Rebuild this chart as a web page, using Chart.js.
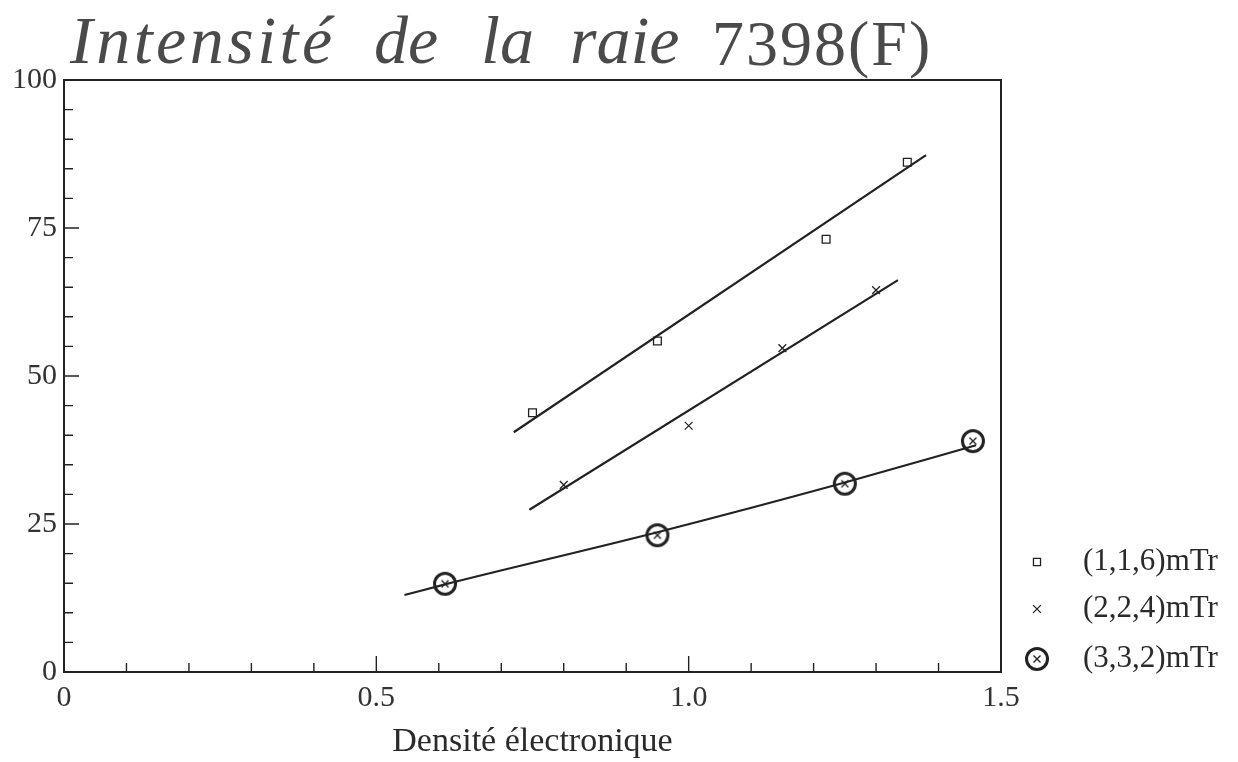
<!DOCTYPE html>
<html>
<head>
<meta charset="utf-8">
<script src="https://cdn.jsdelivr.net/npm/chart.js@4/dist/chart.umd.min.js"></script>
<style>
  html,body{margin:0;padding:0;background:#fff;}
  #wrap{position:relative;width:1238px;height:762px;overflow:hidden;}
  #c{position:absolute;left:0;top:0;}
  .t{position:absolute;font-family:"Liberation Serif",serif;color:#4a4a4a;white-space:nowrap;}
  .it{top:6px;font-size:68px;line-height:68px;font-style:italic;letter-spacing:0px;}
  .up{top:12px;font-size:64px;line-height:64px;letter-spacing:2px;}
</style>
</head>
<body>
<div id="wrap">
  <canvas id="c" width="1238" height="762"></canvas>
  <span class="t it" style="left:70px;letter-spacing:3.5px">Intensité</span>
  <span class="t it" style="left:374px">de</span>
  <span class="t it" style="left:481px">la</span>
  <span class="t it" style="left:570px">raie</span>
  <span class="t up" style="left:712px">7398(F)</span>
</div>
<script>
// ---- data ----
const seriesNames = ['(1,1,6)mTr', '(2,2,4)mTr', '(3,3,2)mTr'];

const sqX = [0.75, 0.95, 1.22, 1.35];
const sqY = [43.8, 55.9, 73.1, 86.1];
const sqFitX = [0.72, 1.38];
const sqFitY = [40.5, 87.3];

const crX = [0.80, 1.00, 1.15, 1.30];
const crY = [31.6, 41.6, 54.7, 64.5];
const crFitX = [0.745, 1.335];
const crFitY = [27.4, 66.2];

const ciX = [0.61, 0.95, 1.25, 1.455];
const ciY = [14.9, 23.1, 31.8, 39.0];
const ciFitX = [0.545, 0.61, 0.95, 1.25, 1.46];
const ciFitY = [13.0, 14.8, 23.6, 32.0, 38.3];

const xTickLabels = ['0', '0.5', '1.0', '1.5'];
const yTickLabels = ['0', '25', '50', '75', '100'];
const xAxisTitle = 'Densité électronique';

const pts = (xs, ys) => xs.map((x, i) => ({x: x, y: ys[i]}));

const INK = '#222';

function makeCircleX() {
  const c = document.createElement('canvas');
  c.width = 30; c.height = 30;
  const g = c.getContext('2d');
  g.strokeStyle = INK;
  g.lineWidth = 3;
  g.beginPath(); g.arc(15, 15, 10.5, 0, 2 * Math.PI); g.stroke();
  g.lineWidth = 1.4;
  g.beginPath();
  g.moveTo(11.5, 11.5); g.lineTo(18.5, 18.5);
  g.moveTo(18.5, 11.5); g.lineTo(11.5, 18.5);
  g.stroke();
  return c;
}
const circleX = makeCircleX();

const fitStyle = {showLine: true, pointRadius: 0, borderColor: INK, borderWidth: 2.2, backgroundColor: 'rgba(0,0,0,0)', fill: false};

const frameTicks = {
  id: 'frameTicks',
  afterDraw(chart) {
    const ctx = chart.ctx, a = chart.chartArea;
    const xs = chart.scales.x, ys = chart.scales.y;
    ctx.save();
    ctx.strokeStyle = INK;
    ctx.lineWidth = 2;
    ctx.strokeRect(a.left, a.top, a.right - a.left, a.bottom - a.top);
    ctx.lineWidth = 1.4;
    ctx.beginPath();
    for (let i = 1; i < 20; i++) {
      const v = i * 5;
      const p = ys.getPixelForValue(v);
      const len = (v % 25 === 0) ? 15 : 9;
      ctx.moveTo(a.left, p); ctx.lineTo(a.left + len, p);
    }
    for (let i = 1; i < 15; i++) {
      const v = i / 10;
      const p = xs.getPixelForValue(v);
      const len = (i % 5 === 0) ? 16 : 9;
      ctx.moveTo(p, a.bottom); ctx.lineTo(p, a.bottom - len);
    }
    ctx.stroke();
    ctx.restore();
  }
};

const customLegend = {
  id: 'customLegend',
  afterDraw(chart) {
    const ctx = chart.ctx;
    const items = [
      {style: 'rect', r: 5, y: 562},
      {style: 'crossRot', r: 5.5, y: 609},
      {style: circleX, r: 10, y: 659}
    ];
    ctx.save();
    items.forEach((it, i) => {
      ctx.strokeStyle = INK;
      ctx.fillStyle = 'rgba(0,0,0,0)';
      ctx.lineWidth = 1.3;
      Chart.helpers.drawPoint(ctx, {pointStyle: it.style, radius: it.r, rotation: 0, borderWidth: 1.3}, 1037, it.y);
      ctx.fillStyle = '#2a2a2a';
      ctx.font = '31px "Liberation Serif", serif';
      ctx.textBaseline = 'middle';
      ctx.textAlign = 'left';
      ctx.fillText(seriesNames[i], 1083, it.y);
    });
    ctx.restore();
  }
};

new Chart(document.getElementById('c'), {
  type: 'scatter',
  data: {
    datasets: [
      Object.assign({label: 'fit1', data: pts(sqFitX, sqFitY)}, fitStyle),
      Object.assign({label: 'fit2', data: pts(crFitX, crFitY)}, fitStyle),
      Object.assign({label: 'fit3', data: pts(ciFitX, ciFitY), cubicInterpolationMode: 'monotone'}, fitStyle),
      {label: seriesNames[0], data: pts(sqX, sqY), pointStyle: 'rect', pointRadius: 5.5, borderColor: INK, borderWidth: 1.3, backgroundColor: 'rgba(0,0,0,0)'},
      {label: seriesNames[1], data: pts(crX, crY), pointStyle: 'crossRot', pointRadius: 5.5, borderColor: INK, borderWidth: 1.3, backgroundColor: 'rgba(0,0,0,0)'},
      {label: seriesNames[2], data: pts(ciX, ciY), pointStyle: circleX, pointRadius: 10, borderColor: INK, backgroundColor: 'rgba(0,0,0,0)'}
    ]
  },
  options: {
    responsive: false,
    animation: false,
    devicePixelRatio: 1,
    layout: {padding: {top: 80, right: 237, left: 0, bottom: 0}},
    plugins: {legend: {display: false}, tooltip: {enabled: false}, title: {display: false}},
    scales: {
      x: {
        type: 'linear', min: 0, max: 1.5,
        afterFit(s) { s.height = 90; },
        grid: {display: false, drawTicks: false},
        border: {display: false},
        ticks: {
          stepSize: 0.5, padding: 8, color: '#333',
          font: {family: '"Liberation Serif", serif', size: 30},
          callback: (v, i) => xTickLabels[i]
        },
        title: {display: true, text: xAxisTitle, color: '#2a2a2a',
          font: {family: '"Liberation Serif", serif', size: 34}, padding: {top: 0, bottom: 0}}
      },
      y: {
        type: 'linear', min: 0, max: 100,
        afterFit(s) { s.width = 64; },
        grid: {display: false, drawTicks: false},
        border: {display: false},
        ticks: {
          stepSize: 25, padding: 7, color: '#333',
          font: {family: '"Liberation Serif", serif', size: 30},
          callback: (v, i) => yTickLabels[i]
        }
      }
    }
  },
  plugins: [frameTicks, customLegend]
});
</script>
</body>
</html>
